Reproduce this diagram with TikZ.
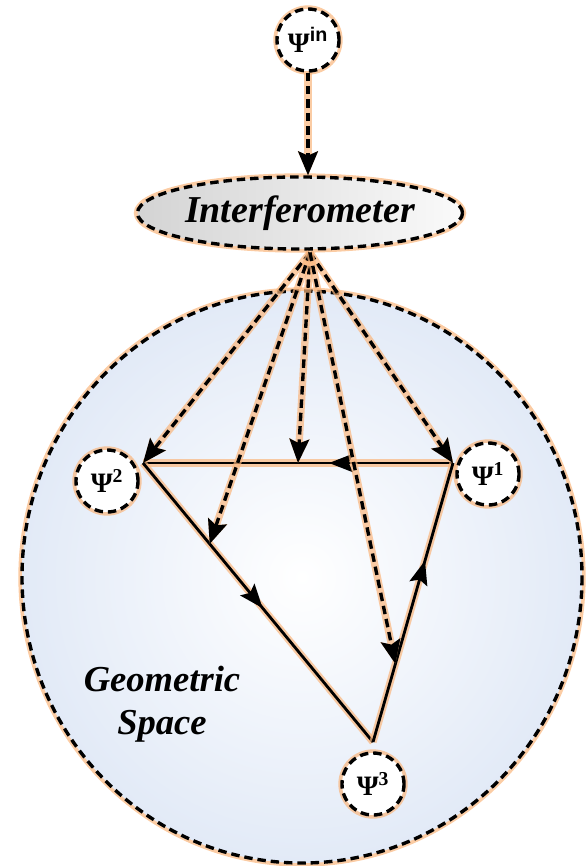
\documentclass[tikz,border=0pt]{standalone}
\usepackage{fontspec}
\setmainfont{Liberation Serif}
\setsansfont{Liberation Sans}
\usetikzlibrary{arrows.meta,decorations.markings,calc,shapes.geometric}

\definecolor{glowc}{RGB}{250,182,125}
\definecolor{spacec}{RGB}{226,234,247}

\begin{document}
\begin{tikzpicture}[x=0.025cm,y=-0.025cm,
    glow/.style={preaction={draw=glowc,solid,line width=5.2pt,opacity=.7}},
    dashline/.style={glow,draw=black,dash pattern=on 6pt off 3.5pt,line width=2.4pt},
    dasharrow/.style={dashline,-{Stealth[length=17pt,width=14pt,inset=3pt]}},
    solidline/.style={glow,draw=black,line width=2pt},
    midarrow/.style={postaction={decorate},decoration={markings,
        mark=at position #1 with {\arrow{Stealth[length=17pt,width=13pt,inset=3pt]}}}},
    psinode/.style={circle,dashline,fill=white,minimum size=1.55cm,inner sep=0pt,
        font=\fontsize{20}{22}\selectfont\bfseries}]
  \useasboundingbox (0,0) rectangle (587,866);

  % geometric space
  \draw[dashline,inner color=white,outer color=spacec] (302,577) ellipse [x radius=280,y radius=286];
  \node (geo) at (162,704) [align=center,font=\fontsize{26}{30.5}\selectfont\bfseries\itshape] {Geometric\\Space};

  % triangle corners
  \coordinate (v1) at (453,463);
  \coordinate (v2) at (143,463);
  \coordinate (v3) at (373,742);

  % draw triangle
  \draw[solidline,midarrow=.40] (v1) -- (v2);
  \draw[solidline,midarrow=.52] (v2) -- (v3);
  \draw[solidline,midarrow=.65] (v3) -- (v1);

  % interferometer and input
  \node (ifm) at (300,213) [ellipse,dashline,left color=black!17,right color=black!2,
      minimum width=7.5cm,minimum height=1.8cm,inner sep=0pt,
      font=\fontsize{27}{30}\selectfont\bfseries\itshape] {Interferometer};
  \node[psinode] (psiin) at (308,40) {Ψ\textsuperscript{\sffamily in}};
  \draw[dasharrow] (psiin.south) -- (psiin.south |- ifm.north);

  % draw outputs
  \coordinate (src) at ($(ifm.south)+(10,2)$);
  \foreach \t in {(v2), (v1), ($(v2)!.5!(v1)$), ($(v2)!.29!(v3)$), ($(v1)!.72!(v3)$)} {
    \draw[dasharrow] (src) -- \t;
  }

  % output states
  \node[psinode] (psi1) at (488,474) {Ψ\textsuperscript{1}};
  \node[psinode] (psi2) at (107,481) {Ψ\textsuperscript{2}};
  \node[psinode] (psi3) at (373,784) {Ψ\textsuperscript{3}};
\end{tikzpicture}
\end{document}
